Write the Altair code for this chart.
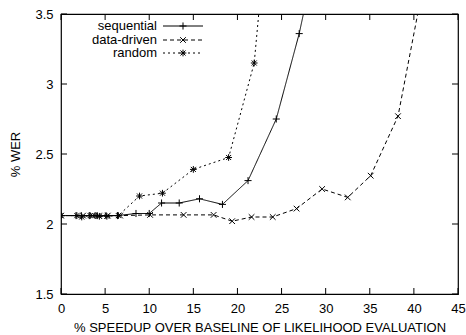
import altair as alt
import pandas as pd

# ---- data ----
seq_x = [0, 1.7, 2.3, 3.2, 4.1, 5.1, 6.4, 8.5, 10.0, 11.4, 13.4, 15.7, 18.3, 21.2, 24.4, 27.0, 28.5]
seq_y = [2.06, 2.06, 2.06, 2.06, 2.06, 2.06, 2.06, 2.075, 2.075, 2.15, 2.15, 2.18, 2.14, 2.31, 2.75, 3.36, 3.8]

dd_x = [0, 2.5, 3.6, 4.3, 5.3, 6.7, 10.1, 13.9, 17.3, 19.4, 21.6, 24.0, 26.7, 29.6, 32.5, 35.1, 38.2, 41.5]
dd_y = [2.06, 2.06, 2.06, 2.06, 2.06, 2.06, 2.065, 2.065, 2.065, 2.02, 2.05, 2.05, 2.11, 2.25, 2.19, 2.345, 2.77, 3.85]

rnd_x = [0, 1.8, 2.35, 3.3, 3.86, 4.35, 5.2, 6.5, 8.9, 11.5, 15.0, 19.0, 21.9, 23.0]
rnd_y = [2.06, 2.06, 2.05, 2.06, 2.06, 2.055, 2.055, 2.06, 2.2, 2.22, 2.39, 2.475, 3.15, 3.9]

series_names = ["sequential", "data-driven", "random"]
x_ticks = [0, 5, 10, 15, 20, 25, 30, 35, 40, 45]
y_ticks = [1.5, 2, 2.5, 3, 3.5]

W, H = 397, 280
FONT = "Liberation Sans"

PLUS = "M-1,0L1,0M0,-1L0,1"
CROSS = "M-0.8,-0.8L0.8,0.8M-0.8,0.8L0.8,-0.8"
STAR = "M-1,0L1,0M0,-1L0,1M-0.75,-0.75L0.75,0.75M-0.75,0.75L0.75,-0.75"

styles = {
    "sequential": dict(dash=[1, 0], shape=PLUS, size=50),
    "data-driven": dict(dash=[4, 3], shape=CROSS, size=50),
    "random": dict(dash=[2, 3], shape=STAR, size=45),
}

frames = {
    "sequential": pd.DataFrame({"x": seq_x, "y": seq_y}),
    "data-driven": pd.DataFrame({"x": dd_x, "y": dd_y}),
    "random": pd.DataFrame({"x": rnd_x, "y": rnd_y}),
}

xs = alt.Scale(domain=[0, 45], nice=False, zero=False)
ys = alt.Scale(domain=[1.5, 3.5], nice=False, zero=False)

x_axis = alt.Axis(values=x_ticks, ticks=False, domain=False, grid=False, labelFont=FONT,
                  labelFontSize=13, labelColor="black", labelPadding=8,
                  title="% SPEEDUP OVER BASELINE OF LIKELIHOOD EVALUATION",
                  titleFont=FONT, titleFontSize=13, titleFontWeight="normal",
                  titleColor="black", titlePadding=6, labelFlush=False)
y_axis = alt.Axis(values=y_ticks, ticks=False, domain=False, grid=False, labelFont=FONT,
                  labelFontSize=13, labelColor="black", labelPadding=8, format=".1~f",
                  title="% WER", titleFont=FONT, titleFontSize=13,
                  titleFontWeight="normal", titleColor="black", titlePadding=12,
                  labelFlush=False)

layers = []

# axis carrier (labels/titles)
base = alt.Chart(pd.DataFrame({"x": [0], "y": [2]})).mark_point(opacity=0).encode(
    x=alt.X("x:Q", scale=xs, axis=x_axis),
    y=alt.Y("y:Q", scale=ys, axis=y_axis),
)
layers.append(base)

# inward ticks (bottom/top, left/right)
xt = pd.DataFrame({"x": x_ticks})
yt = pd.DataFrame({"y": y_ticks})
TL = 6
layers.append(alt.Chart(xt).mark_rule(color="black", strokeWidth=1).encode(
    x=alt.X("x:Q", scale=xs), y=alt.value(H), y2=alt.value(H - TL)))
layers.append(alt.Chart(xt).mark_rule(color="black", strokeWidth=1).encode(
    x=alt.X("x:Q", scale=xs), y=alt.value(0), y2=alt.value(TL)))
layers.append(alt.Chart(yt).mark_rule(color="black", strokeWidth=1).encode(
    y=alt.Y("y:Q", scale=ys), x=alt.value(0), x2=alt.value(TL)))
layers.append(alt.Chart(yt).mark_rule(color="black", strokeWidth=1).encode(
    y=alt.Y("y:Q", scale=ys), x=alt.value(W), x2=alt.value(W - TL)))

# data series
for name in series_names:
    st = styles[name]
    df = frames[name]
    layers.append(alt.Chart(df).mark_line(color="black", strokeWidth=1, clip=True,
                                          strokeDash=st["dash"]).encode(
        x=alt.X("x:Q", scale=xs), y=alt.Y("y:Q", scale=ys)))
    layers.append(alt.Chart(df).mark_point(color="black", filled=False, strokeWidth=1,
                                           clip=True, shape=st["shape"], size=st["size"],
                                           opacity=1).encode(
        x=alt.X("x:Q", scale=xs), y=alt.Y("y:Q", scale=ys)))

# legend (top-left, inside)
leg_y = [12, 26, 39]
for i, name in enumerate(series_names):
    st = styles[name]
    ld = pd.DataFrame({"name": [name]})
    layers.append(alt.Chart(ld).mark_text(align="right", baseline="middle", font=FONT,
                                          fontSize=13, color="black").encode(
        text="name:N", x=alt.value(96), y=alt.value(leg_y[i])))
    layers.append(alt.Chart(ld).mark_rule(color="black", strokeWidth=1,
                                          strokeDash=st["dash"]).encode(
        x=alt.value(102), x2=alt.value(142), y=alt.value(leg_y[i])))
    layers.append(alt.Chart(ld).mark_point(color="black", filled=False, strokeWidth=1,
                                           shape=st["shape"], size=st["size"], opacity=1).encode(
        x=alt.value(122), y=alt.value(leg_y[i])))

chart = alt.layer(*layers).properties(
    width=W, height=H,
    autosize=alt.AutoSizeParams(type="none"),
    padding={"left": 61, "top": 14, "right": 8, "bottom": 41},
    background="white",
).configure_view(stroke="black", strokeWidth=1.2)

chart.save("out.html", embed_options={"renderer": "svg", "actions": False})
